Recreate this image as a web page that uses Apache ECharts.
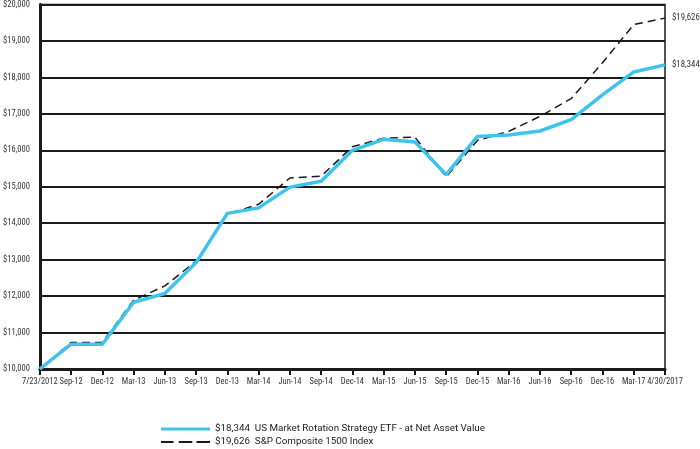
<!DOCTYPE html>
<html>
<head>
<meta charset="utf-8">
<script src="https://cdn.jsdelivr.net/npm/echarts@6/dist/echarts.min.js"></script>
<style>html,body{margin:0;padding:0;background:#fff;}#c{width:700px;height:449px;}</style>
</head>
<body>
<div id="c"></div>
<script>
var categories = ['7/23/2012','Sep-12','Dec-12','Mar-13','Jun-13','Sep-13','Dec-13','Mar-14','Jun-14','Sep-14','Dec-14','Mar-15','Jun-15','Sep-15','Dec-15','Mar-16','Jun-16','Sep-16','Dec-16','Mar-17','4/30/2017'];
var etfValues = [10000,10680,10680,11830,12070,12920,14270,14420,14990,15150,16000,16300,16230,15330,16380,16420,16530,16840,17520,18150,18344];
var indexValues = [10000,10730,10730,11890,12280,12960,14250,14520,15240,15290,16100,16330,16360,15270,16270,16520,16930,17420,18400,19450,19626];
var etfName = '$18,344  US Market Rotation Strategy ETF - at Net Asset Value';
var indexName = '$19,626  S&P Composite 1500 Index';
var etfEnd = '$18,344';
var indexEnd = '$19,626';

var font = "'Liberation Sans Narrow', 'Roboto Condensed', 'Roboto', sans-serif";
var legendText = {fontSize: 9.8, color: '#222', fontFamily: "'Roboto', sans-serif"};
var chart = echarts.init(document.getElementById('c'), null, {renderer:'canvas'});
chart.setOption({
  animation: false,
  textStyle: {fontFamily: font},
  grid: {left: 38, right: 35, top: 4, bottom: 80, show: true, borderColor: '#1a1a1a', borderWidth: 1.5},
  legend: [
    {
      left: 161, top: 424, padding: 0, itemWidth: 49, itemHeight: 3, itemGap: 8, selectedMode: false,
      textStyle: legendText,
      data: [{name: etfName, icon: 'path://M0,0L50,0L50,3L0,3Z', itemStyle: {color: '#3EC3EE'}}]
    },
    {
      left: 161, top: 437, padding: 0, itemWidth: 49, itemHeight: 2.5, itemGap: 8, selectedMode: false,
      textStyle: legendText,
      data: [{name: indexName, icon: 'path://M0,0h12v2h-12z M17,0h13v2h-13z M34,0h13v2h-13z', itemStyle: {color: '#1a1a1a'}}]
    }
  ],
  xAxis: {
    type: 'category', data: categories, boundaryGap: false,
    axisLine: {lineStyle: {color: '#1a1a1a', width: 3}},
    axisTick: {show: true, alignWithLabel: true, length: 6, lineStyle: {color: '#1a1a1a', width: 2}},
    axisLabel: {fontSize: 8.5, color: '#333', margin: 8, interval: 0, fontFamily: font},
    splitLine: {show: false}
  },
  yAxis: {
    type: 'value', min: 10000, max: 20000, interval: 1000,
    axisLine: {show: true, lineStyle: {color: '#1a1a1a', width: 3}},
    axisTick: {show: false},
    axisLabel: {fontSize: 8.5, color: '#333', margin: 10, fontFamily: font,
      formatter: function(v){ return '$' + v.toLocaleString('en-US'); }},
    splitLine: {lineStyle: {color: '#1a1a1a', width: 2}}
  },
  series: [
    {
      name: etfName, type: 'line', data: etfValues, showSymbol: false, z: 3,
      lineStyle: {color: '#3EC3EE', width: 3.5},
      itemStyle: {color: '#3EC3EE'},
      endLabel: {show: true, formatter: etfEnd, fontSize: 8.8, color: '#333', distance: 7, fontFamily: font}
    },
    {
      name: indexName, type: 'line', data: indexValues, showSymbol: false, z: 2,
      lineStyle: {color: '#1a1a1a', width: 1.5, type: [8, 5]},
      itemStyle: {color: '#1a1a1a'},
      endLabel: {show: true, formatter: indexEnd, fontSize: 8.8, color: '#333', distance: 7, fontFamily: font}
    }
  ]
});
</script>
</body>
</html>
